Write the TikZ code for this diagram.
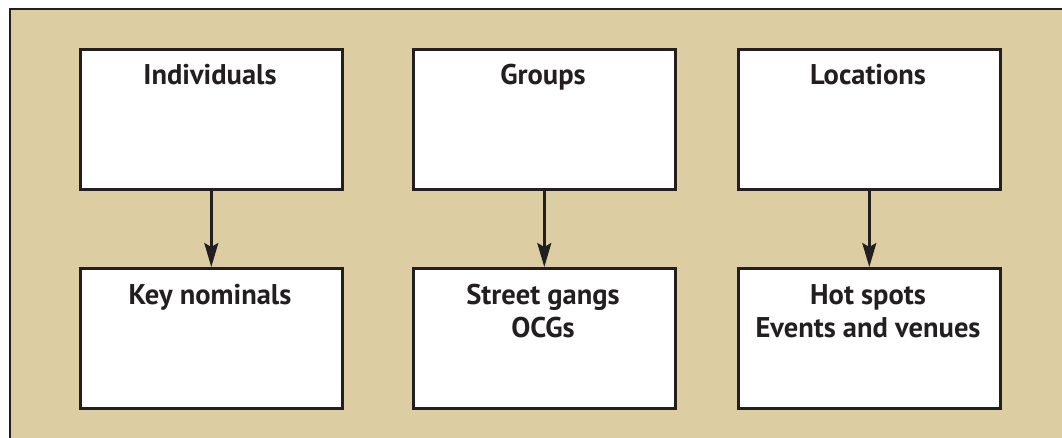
\documentclass[tikz,border=0pt]{standalone}
\usepackage{fontspec}
\setmainfont{PT Sans}
\usetikzlibrary{arrows.meta}
\definecolor{tan}{RGB}{220,205,162}
\definecolor{ink}{RGB}{35,31,32}
\tikzset{
  box/.style={draw=ink, line width=2.6bp, fill=white, minimum width=262bp, minimum height=140bp, anchor=north west, inner sep=0pt},
  lbl/.style={font=\fontsize{28.5bp}{33bp}\selectfont\bfseries, text=ink, align=center, anchor=base, inner sep=0pt},
  conn/.style={draw=ink, line width=2.4bp, -{Stealth[length=24bp,width=14bp,inset=4bp]}}
}
\begin{document}
\begin{tikzpicture}[x=1bp,y=-1bp]
\useasboundingbox (0,0) rectangle (1062,438);
\fill[white] (0,0) rectangle (1062,438);
\fill[tan] (10,9) rectangle (1075,450);
\draw[ink, line width=2.2bp] (10,450) -- (10,9) -- (1075,9);
% top row
\node[box] (i) at (79,48) {};
\node[box] (g) at (412,48) {};
\node[box] (l) at (737,48) {};
% bottom row
\node[box] (k) at (79,267) {};
\node[box] (s) at (412,267) {};
\node[box] (h) at (737,267) {};
% labels
\node[lbl] (ti) at (210,85) {Individuals};
\node[lbl] (tg) at (543,85) {Groups};
\node[lbl] (tl) at (868,85) {Locations};
\node[lbl] (tk) at (210,305) {Key nominals};
\node[lbl] (ts) at (543,338) {Street gangs\\OCGs};
\node[lbl] (th) at (868,338) {Hot spots\\Events and venues};
% connectors
\draw[conn] (i.south) -- (k.north);
\draw[conn] (g.south) -- (s.north);
\draw[conn] (l.south) -- (h.north);
\end{tikzpicture}
\end{document}
